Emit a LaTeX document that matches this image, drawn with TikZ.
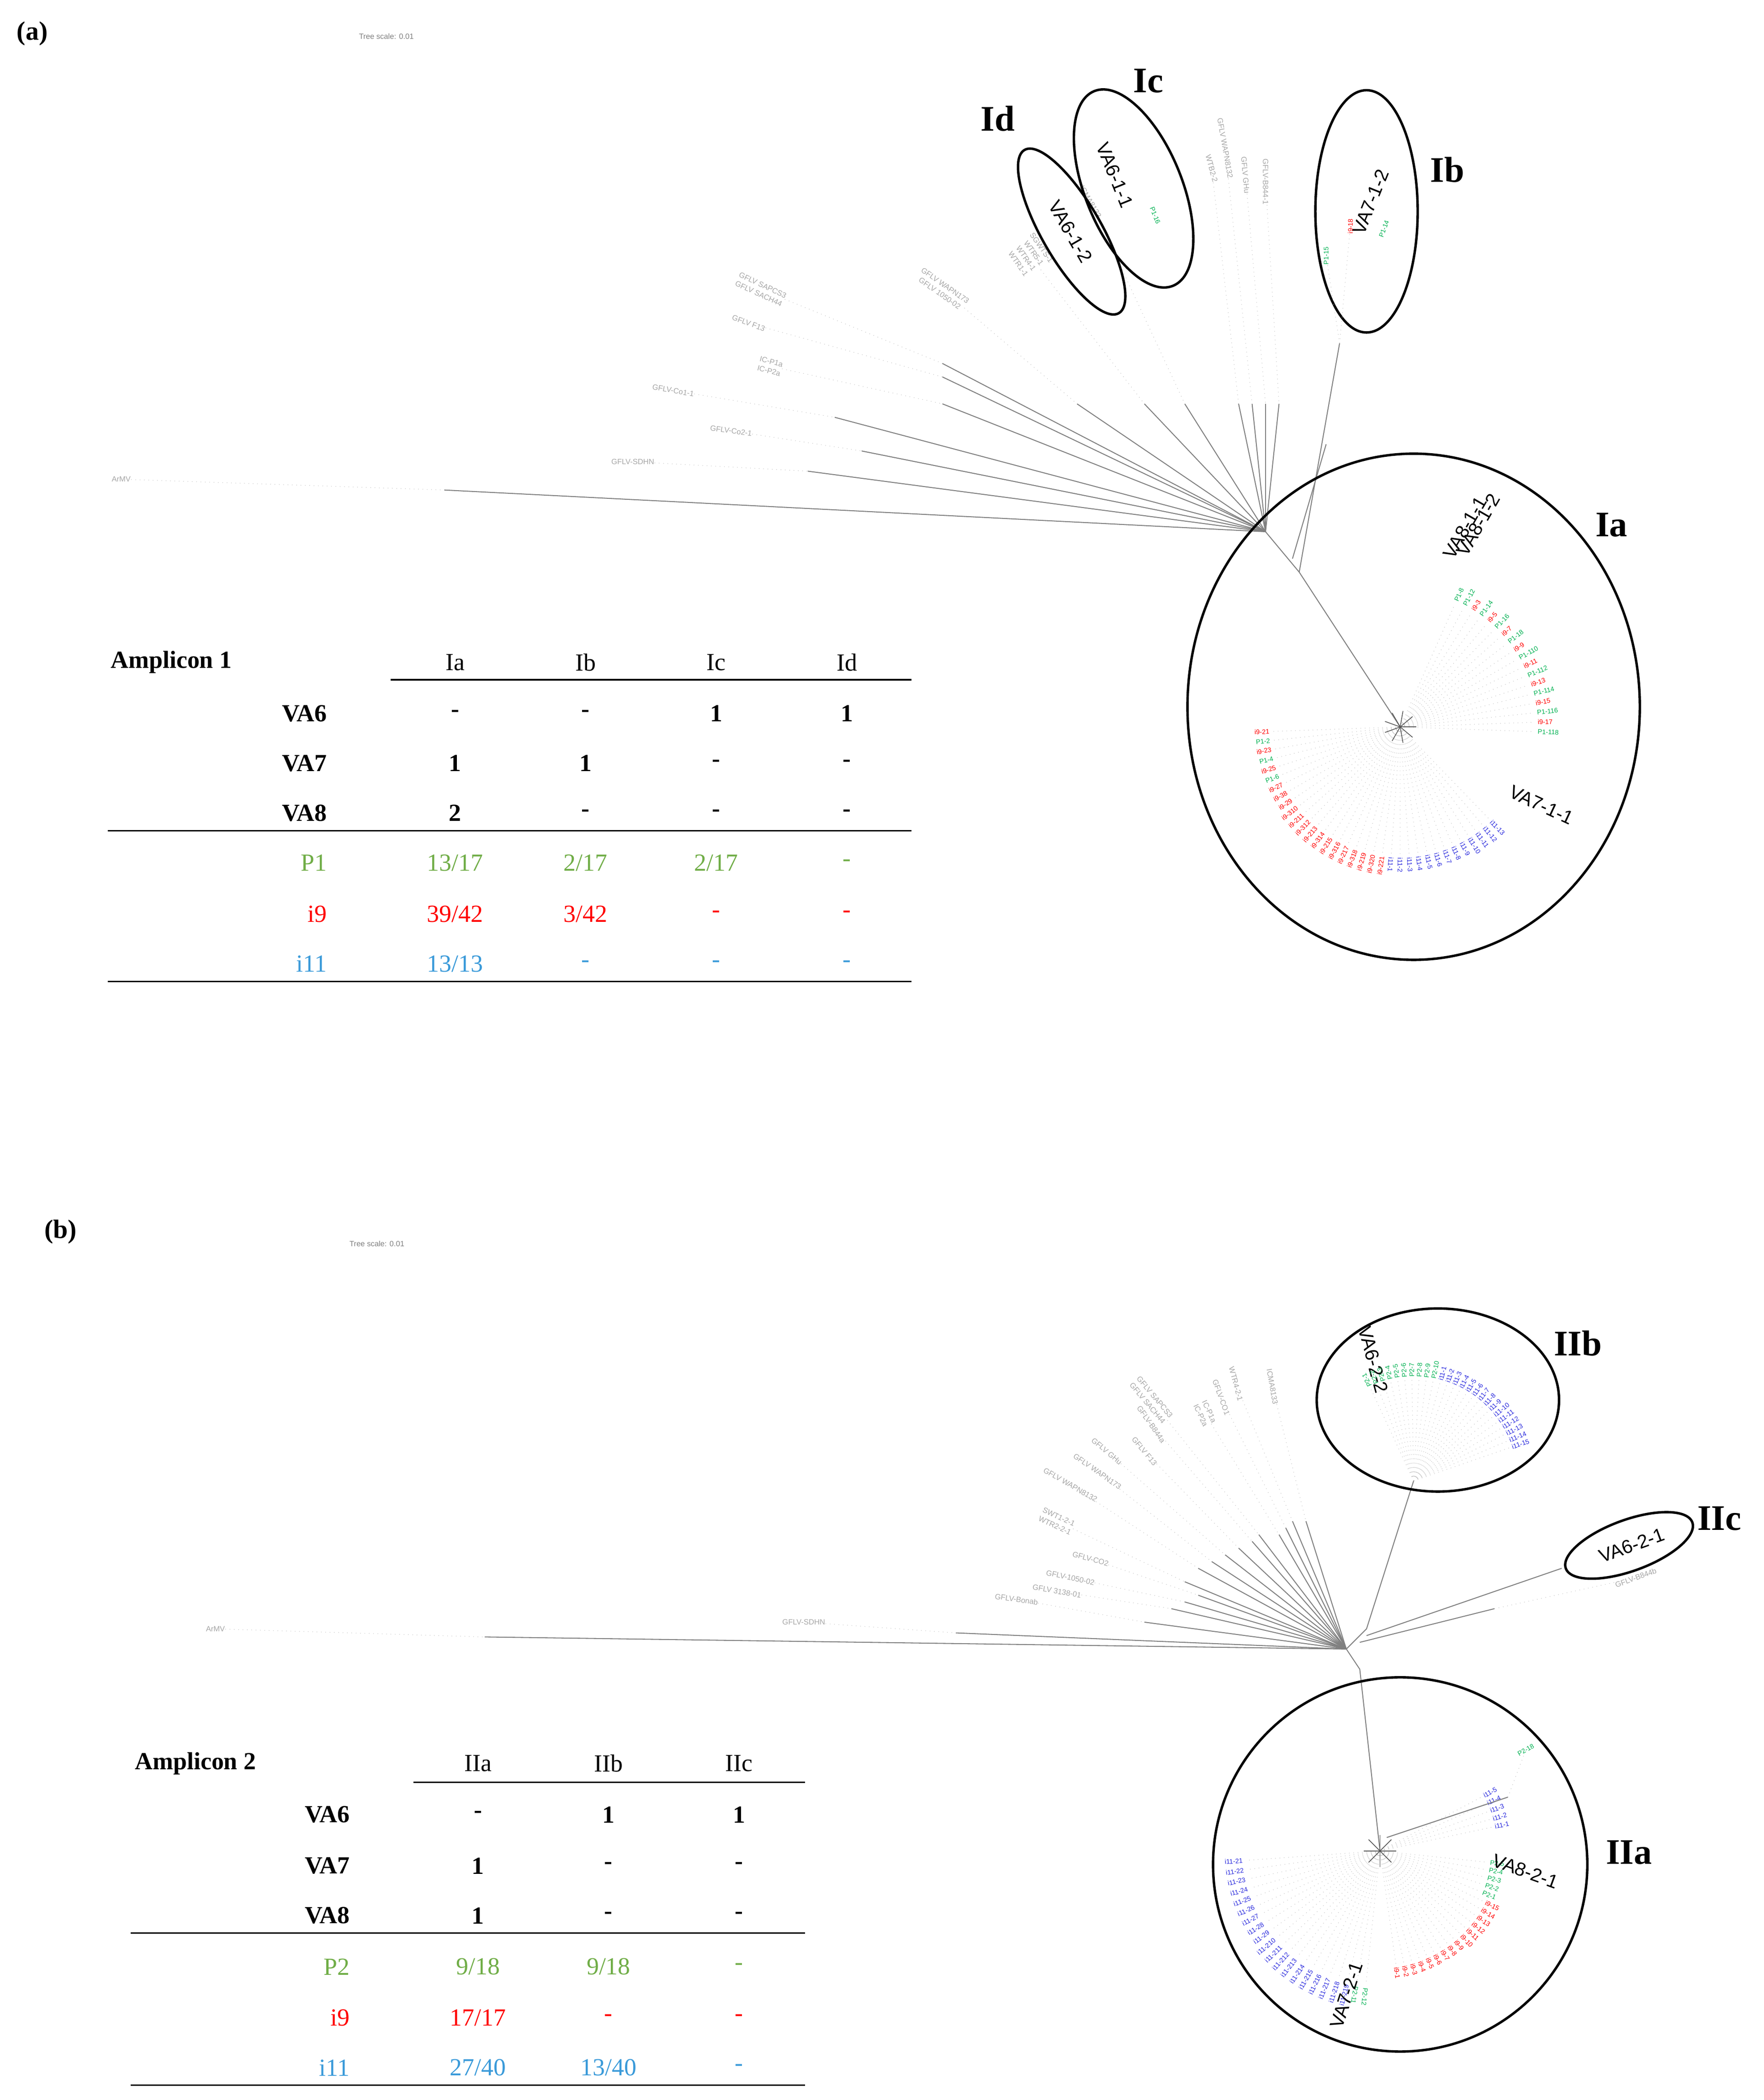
\documentclass[tikz,border=0pt]{standalone}
\usepackage{fontspec}
\usetikzlibrary{calc}
\setmainfont{Liberation Serif}
\newfontfamily\sansf{Liberation Sans}
\definecolor{tgreen}{RGB}{112,173,71}
\definecolor{tred}{RGB}{255,0,0}
\definecolor{tblue}{RGB}{58,154,217}
\definecolor{lgreen}{RGB}{0,176,80}
\definecolor{lblue}{RGB}{40,40,220}
\tikzset{
 tx/.style={font=\fontsize{13}{15}\selectfont,inner sep=0pt},
 bx/.style={font=\bfseries\fontsize{13}{15}\selectfont,inner sep=0pt},
 cl/.style={font=\bfseries\fontsize{19}{21}\selectfont,inner sep=0pt},
 leaf/.style={font=\sansf\fontsize{4}{5}\selectfont,text=gray!70,inner sep=0pt},
 tiny/.style={font=\sansf\fontsize{3.5}{4}\selectfont,inner sep=0pt},
 br/.style={gray,line width=0.5pt},
 dt/.style={gray!50,dotted,line width=0.3pt},
 ell/.style={draw,line width=1.3pt},
 va/.style={font=\sansf\fontsize{10}{11}\selectfont,inner sep=0pt},
 rule/.style={line width=0.8pt}
}
\begin{document}
\begin{tikzpicture}[x=0.25mm,y=-0.25mm]
\useasboundingbox (0,0) rectangle (1310,1560);
% ================= panel a
\node[bx,font=\bfseries\fontsize{14}{16}\selectfont] (pa) at (24,25) {(a)};
\node[leaf,text=gray] (tsa) at (287,27) {Tree scale: 0.01};
\coordinate (ha) at (940,395);
\coordinate (ha2) at (965,425);
\coordinate (hia) at (1040,540);
\foreach \n/\px/\py/\sx/\sy/\t/\r in {ArMV/90/356/330/364/ArMV/0,
 SD/470/343/600/350/GFLV-SDHN/0,
 C2/543/320/640/335/GFLV-Co2-1/-8,
 C1/500/290/620/310/GFLV-Co1-1/-10,
 IC/572/272/700/300/IC-P1a\\IC-P2a/-15,
 F13/556/240/700/280/GFLV F13/-20,
 SA/565/215/700/270/GFLV SAPCS3\\GFLV SACH44/-25,
 W173/700/215/800/300/GFLV WAPN173\\GFLV 1050-02/-35,
 SG/765/190/850/300/SGWTS-1\\WTR5-1\\WTR4-1\\WTR1-1/-55,
 ICM/810/150/880/300/ICMA8133/-60,
 WT/900/125/920/300/WTB2-2/-75,
 W132/910/110/930/300/GFLV WAPN8132/-80,
 GHu/925/130/940/300/GFLV GHu/-85,
 B844/940/135/950/300/GFLV-B844-1/-90}{
 \node[leaf,rotate=\r,align=center] (l\n) at (\px,\py) {\t};
 \coordinate (s\n) at (\sx,\sy);
 \draw[dt] (l\n) -- (s\n);
 \draw[br] (s\n) -- (ha);
}
\draw[br] (ha) -- (ha2) -- (hia);
\coordinate (ib0) at (995,255);
\draw[br] (ha2) -- (ib0);
\draw[br] (960,415) -- (985,330);
\node[cl] (Ia) at (1197,390) {Ia};
\node[cl] (Ib) at (1075,126) {Ib};
\node[cl] (Ic) at (853,60) {Ic};
\node[cl] (Id) at (741,88) {Id};
\draw[ell] (1050,525) ellipse[x radius=168,y radius=188];
\draw[ell] (1015,157) ellipse[x radius=38,y radius=90];
\draw[ell,rotate around={-68:(842,140)}] (842,140) ellipse[x radius=78,y radius=36];
\draw[ell,rotate around={-60:(796,172)}] (796,172) ellipse[x radius=70,y radius=22];
\node[va,rotate=-68] (v611) at (828,130) {VA6-1-1};
\node[va,rotate=-60] (v612) at (795,172) {VA6-1-2};
\node[tiny,text=lgreen,rotate=-68] (p116) at (858,160) {P1-16};
\node[va,rotate=68] (v712) at (1018,150) {VA7-1-2};
\node[tiny,text=lgreen,rotate=90] (p115) at (985,190) {P1-15};
\node[tiny,text=tred,rotate=90] (i9b) at (1003,168) {i9-18};
\node[tiny,text=lgreen,rotate=70] (p114) at (1028,170) {P1-14};
\draw[dt] (ib0) -- (p115); \draw[dt] (ib0) -- (i9b);
% Ia cluster
\foreach \a [count=\i] in {-66,-62,...,2}{
 \draw[dt] (hia) -- ++(\a:100);
 \ifnum\i=1 \node[tiny,text=lgreen,rotate=-\a,anchor=west] at ($(hia)+(\a:102)$) {P1-8};
 \else\ifodd\i \node[tiny,text=tred,rotate=-\a,anchor=west] at ($(hia)+(\a:102)$) {i9-\i};
 \else \node[tiny,text=lgreen,rotate=-\a,anchor=west] at ($(hia)+(\a:102)$) {P1-1\i};\fi\fi
}
\foreach \a [count=\i] in {178,174,...,98}{
 \draw[dt] (hia) -- ++(\a:95);
 \ifodd\i \node[tiny,text=tred,rotate=180-\a,anchor=east] at ($(hia)+(\a:97)$) {i9-2\i};
 \else\ifnum\i<8 \node[tiny,text=lgreen,rotate=180-\a,anchor=east] at ($(hia)+(\a:97)$) {P1-\i};
 \else \node[tiny,text=tred,rotate=180-\a,anchor=east] at ($(hia)+(\a:97)$) {i9-3\i};\fi\fi
}
\foreach \a [count=\i] in {94,90,...,46}{
 \draw[dt] (hia) -- ++(\a:95);
 \node[tiny,text=lblue,rotate=-\a,anchor=west] at ($(hia)+(\a:97)$) {i11-\i};
}
\foreach \a in {0,40,...,320}{\draw[gray!70!black,line width=0.4pt] (hia) -- ++(\a:12);}
\node[va,rotate=60] (v811) at (1088,392) {VA8-1-1};
\node[va,rotate=60] (v812) at (1098,390) {VA8-1-2};
\node[va,rotate=-25] (v711) at (1145,598) {VA7-1-1};
% table a
\node[bx,anchor=west] (amp1) at (82,492) {Amplicon 1};
\foreach \t/\x in {Ia/338,Ib/435,Ic/532,Id/629}{\node[tx] (h\t) at (\x,492) {\t};}
\draw[rule] (290,505) -- (677,505);
\foreach \r/\y/\a/\b/\c/\d in {VA6/530/-/-/1/1,VA7/567/1/1/-/-,VA8/604/2/-/-/-}{
 \node[bx,anchor=east] (r\r) at (243,\y) {\r};
 \node[bx] at (338,\y) {\a};\node[bx] at (435,\y) {\b};\node[bx] at (532,\y) {\c};\node[bx] at (629,\y) {\d};
}
\draw[rule] (80,617) -- (677,617);
\foreach \r/\y/\a/\b/\c/\d/\col in {P1/641/13\slash17/2\slash17/2\slash17/-/tgreen,i9/679/39\slash42/3\slash42/-/-/tred,i11/716/13\slash13/-/-/-/tblue}{
 \node[tx,anchor=east,text=\col] at (243,\y) {\r};
 \node[tx,text=\col] at (338,\y) {\a};\node[tx,text=\col] at (435,\y) {\b};\node[tx,text=\col] at (532,\y) {\c};\node[tx,text=\col] at (629,\y) {\d};
}
\draw[rule] (80,729) -- (677,729);
% ================= panel b
\node[bx,font=\bfseries\fontsize{14}{16}\selectfont] (pb) at (45,915) {(b)};
\node[leaf,text=gray] (tsb) at (280,924) {Tree scale: 0.01};
\coordinate (hb) at (1000,1225);
\foreach \n/\px/\py/\sx/\sy/\t/\r in {ArMV/160/1210/360/1216/ArMV/0,
 SD/597/1205/710/1213/GFLV-SDHN/0,
 Bo/755/1188/850/1205/GFLV-Bonab/-8,
 T31/785/1182/870/1195/GFLV 3138-01/-10,
 T10/795/1172/880/1190/GFLV-1050-02/-12,
 CO2/810/1158/890/1185/GFLV-CO2/-15,
 WT2/785/1130/880/1175/SWT1-2-1\\WTR2-2-1/-25,
 W132/795/1103/890/1165/GFLV WAPN8132/-30,
 W173/815/1093/900/1160/GFLV WAPN173/-35,
 GHu/822/1078/910/1155/GFLV GHu/-40,
 F13/850/1078/920/1150/GFLV F13/-50,
 B84/855/1058/930/1145/GFLV-B844a/-55,
 SA/855/1040/935/1140/GFLV SAPCS3\\GFLV SACH44/-50,
 ICP/895/1050/950/1140/IC-P1a\\IC-P2a/-65,
 Co1/907/1038/955/1135/GFLV-CO1/-70,
 W42/918/1028/960/1130/WTR4-2-1/-75,
 ICM/945/1030/970/1130/ICMA8133/-80}{
 \node[leaf,rotate=\r,align=center] (m\n) at (\px,\py) {\t};
 \coordinate (t\n) at (\sx,\sy);
 \draw[dt] (m\n) -- (t\n);
 \draw[br] (t\n) -- (hb);
}
\coordinate (iibh) at (1050,1100);
\coordinate (iiah) at (1025,1375);
\coordinate (iich) at (1110,1195);
\draw[br] (hb) -- (1015,1210) -- (iibh);
\draw[br] (hb) -- (1010,1240) -- (iiah);
\draw[br] (1010,1220) -- (iich);
\node[leaf,rotate=20] (b844b) at (1215,1172) {GFLV-B844b};
\draw[dt] (iich) -- (b844b);
\draw[br] (1015,1215) -- (1160,1165);
\node[cl] (IIa) at (1210,1376) {IIa};
\node[cl] (IIb) at (1172,998) {IIb};
\node[cl] (IIc) at (1277,1128) {IIc};
\draw[ell] (1040,1385) circle[radius=139];
\draw[ell] (1068,1040) ellipse[x radius=90,y radius=68];
\draw[ell,rotate around={20:(1210,1148)}] (1210,1148) ellipse[x radius=50,y radius=19];
\node[va,rotate=20] (v621) at (1212,1148) {VA6-2-1};
\node[va,rotate=-75] (v622) at (1020,1010) {VA6-2-2};
\foreach \a [count=\i] in {-115,-111,...,-79}{
 \draw[dt] (iibh) -- ++(\a:75);
 \node[tiny,text=lgreen,rotate=-\a,anchor=west] at ($(iibh)+(\a:77)$) {P2-\i};}
\foreach \a [count=\i] in {-75,-71,...,-19}{
 \draw[dt] (iibh) -- ++(\a:75);
 \node[tiny,text=lblue,rotate=-\a,anchor=west] at ($(iibh)+(\a:77)$) {i11-\i};}
% IIa
\foreach \a [count=\i] in {176,172,...,104}{
 \draw[dt] (iiah) -- ++(\a:100);
 \node[tiny,text=lblue,rotate=180-\a,anchor=east] at ($(iiah)+(\a:102)$) {i11-2\i};}
\foreach \a [count=\i] in {100,96}{
 \draw[dt] (iiah) -- ++(\a:100);
 \node[tiny,text=lgreen,rotate=-\a,anchor=west] at ($(iiah)+(\a:102)$) {P2-1\i};}
\foreach \a [count=\i] in {82,78,...,26}{
 \draw[dt] (iiah) -- ++(\a:85);
 \node[tiny,text=tred,rotate=-\a,anchor=west] at ($(iiah)+(\a:87)$) {i9-\i};}
\foreach \a [count=\i] in {22,18,...,6}{
 \draw[dt] (iiah) -- ++(\a:80);
 \node[tiny,text=lgreen,rotate=-\a,anchor=west] at ($(iiah)+(\a:82)$) {P2-\i};}
\foreach \a [count=\i] in {-12,-16,...,-28}{
 \draw[dt] (iiah) -- ++(\a:85);
 \node[tiny,text=lblue,rotate=-\a,anchor=west] at ($(iiah)+(\a:87)$) {i11-\i};}
\node[tiny,text=lgreen,rotate=30,anchor=west] (p218) at ($(iiah)+(-35:125)$) {P2-18};
\draw[br] (1030,1365) -- (1120,1335);
\draw[dt] (1120,1335) -- (p218);
\foreach \a in {0,45,...,315}{\draw[gray!70!black,line width=0.4pt] (iiah) -- ++(\a:12);}
\node[va,rotate=-20] (v821) at (1133,1390) {VA8-2-1};
\node[va,rotate=72] (v721) at (1000,1482) {VA7-2-1};
% table b
\node[bx,anchor=west] (amp2) at (100,1310) {Amplicon 2};
\foreach \t/\x in {IIa/355,IIb/452,IIc/549}{\node[tx] (h\t) at (\x,1310) {\t};}
\draw[rule] (307,1324) -- (598,1324);
\foreach \r/\y/\a/\b/\c in {VA6/1348/-/1/1,VA7/1386/1/-/-,VA8/1423/1/-/-}{
 \node[bx,anchor=east] (q\r) at (260,\y) {\r};
 \node[bx] at (355,\y) {\a};\node[bx] at (452,\y) {\b};\node[bx] at (549,\y) {\c};
}
\draw[rule] (97,1436) -- (598,1436);
\foreach \r/\y/\a/\b/\c/\col in {P2/1461/9\slash18/9\slash18/-/tgreen,i9/1499/17\slash17/-/-/tred,i11/1536/27\slash40/13\slash40/-/tblue}{
 \node[tx,anchor=east,text=\col] at (260,\y) {\r};
 \node[tx,text=\col] at (355,\y) {\a};\node[tx,text=\col] at (452,\y) {\b};\node[tx,text=\col] at (549,\y) {\c};
}
\draw[rule] (97,1549) -- (598,1549);
\end{tikzpicture}
\end{document}
